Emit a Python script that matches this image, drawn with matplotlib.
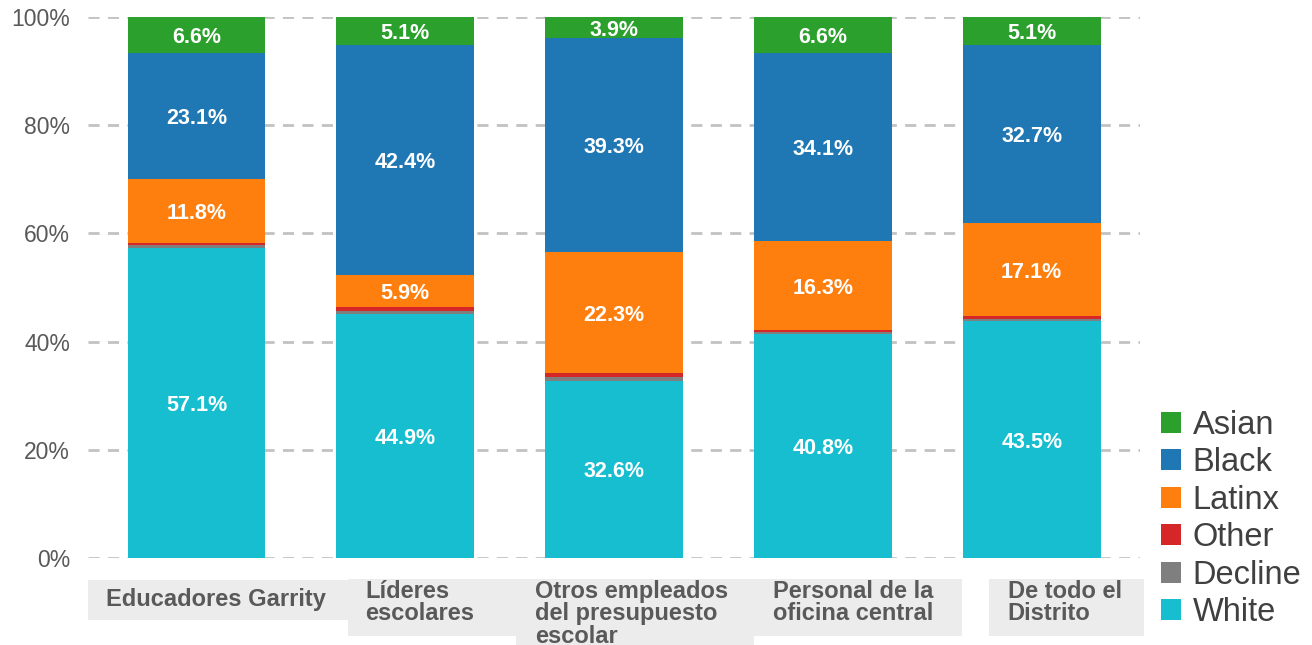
import numpy as np
import matplotlib.pyplot as plt
from matplotlib.patches import Rectangle
import matplotlib.transforms as mtransforms

plt.rcParams['font.family'] = ['Liberation Sans', 'DejaVu Sans']

categories = ['Educadores Garrity', 'Líderes\nescolares', 'Otros empleados\ndel presupuesto\nescolar',
              'Personal de la\noficina central', 'De todo el\nDistrito']
groups = ['White', 'Decline', 'Other', 'Latinx', 'Black', 'Asian']
white = [57.1, 44.9, 32.6, 40.8, 43.5]
decline = [0.4, 0.6, 0.6, 0.3, 0.4]
other = [0.5, 0.7, 0.7, 0.3, 0.5]
latinx = [11.8, 5.9, 22.3, 16.3, 17.1]
black = [23.1, 42.4, 39.3, 34.1, 32.7]
asian = [6.6, 5.1, 3.9, 6.6, 5.1]
show_label = [True, False, False, True, True, True]

colors = ['#17becf', '#7f7f7f', '#d62728', '#ff7f0e', '#1f77b4', '#2ca02c']
series = np.array([white, decline, other, latinx, black, asian])
# stacked to 100%
pct = series / series.sum(axis=0) * 100

fig = plt.figure(figsize=(13.12, 6.45), dpi=100)
ax = fig.add_axes([0.0671, 0.1349, 0.802, 0.8387])

x = np.arange(len(categories))
bottom = np.zeros(len(categories))
handles = []
for i, g in enumerate(groups):
    h = ax.bar(x, pct[i], 0.66, bottom=bottom, color=colors[i], label=g, zorder=3)
    handles.append(h)
    if show_label[i]:
        for j in range(len(x)):
            ax.text(x[j], bottom[j] + pct[i][j] / 2, f'{series[i][j]:.1f}%', ha='center',
                    va='center_baseline', color='white', fontsize=15.5, fontweight='bold', zorder=4)
    bottom += pct[i]

ax.set_xlim(-0.52, 4.52)
ax.set_ylim(0, 100)
ax.set_yticks([0, 20, 40, 60, 80, 100])
ax.set_yticklabels(['0%', '20%', '40%', '60%', '80%', '100%'], fontsize=16.5, color='#595959')
ax.tick_params(axis='y', length=0, pad=13)
ax.set_xticks([])
ax.yaxis.grid(True, color='#c2c2c2', linestyle=(0, (4, 3)), linewidth=2, zorder=0)
for s in ax.spines.values():
    s.set_visible(False)

# category label boxes under the axis
trans = mtransforms.blended_transform_factory(ax.transData, ax.transAxes)
px = lambda p: (p - 196) / 208.75
py = lambda p: (558 - p) / 541
boxes = [(87, 347, 580, 620), (347, 515, 579, 636), (515, 753, 579, 645),
         (753, 961, 579, 636), (988, 1143, 579, 636)]
text_x = [105, 365, 534, 772, 1007]
for k, (x0, x1, y0, y1) in enumerate(boxes):
    ax.add_patch(Rectangle((px(x0), py(y1)), px(x1) - px(x0), py(y0) - py(y1), transform=trans,
                           facecolor='#ececec', edgecolor='none', clip_on=False, zorder=1))
    if '\n' in categories[k]:
        ax.text(px(text_x[k]), py(y0 + 1), categories[k], transform=trans, ha='left', va='top',
                fontsize=17, fontweight='bold', color='#595959', linespacing=0.96, clip_on=False, zorder=2)
    else:
        ax.text(px(text_x[k]), py((y0 + y1) / 2), categories[k], transform=trans, ha='left',
                va='center', fontsize=17, fontweight='bold', color='#595959', clip_on=False, zorder=2)

leg = fig.legend(handles[::-1], groups[::-1], loc='lower left', bbox_to_anchor=(0.885, 0.026),
                 frameon=False, fontsize=23.5, handlelength=0.62, handleheight=0.62, handletextpad=0.35,
                 labelspacing=0.2, borderaxespad=0, borderpad=0)
for t in leg.get_texts():
    t.set_color('#404040')

fig.savefig('out.png', dpi=100)
